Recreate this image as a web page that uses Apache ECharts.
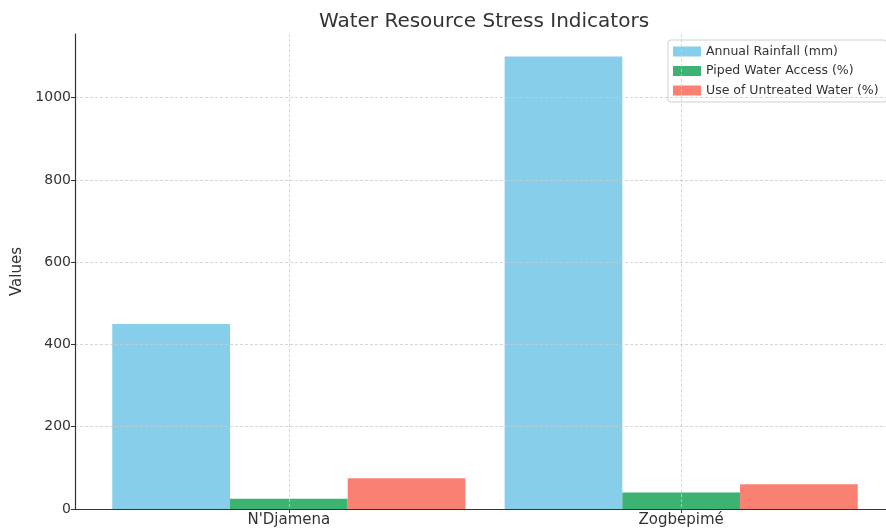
<!DOCTYPE html>
<html>
<head>
<meta charset="utf-8">
<script src="https://cdn.jsdelivr.net/npm/echarts@6/dist/echarts.min.js"></script>
<style>html,body{margin:0;padding:0;background:#fff}#c{width:886px;height:529px}</style>
</head>
<body>
<div id="c"></div>
<script>
const categories = ["N'Djamena", "Zogbepimé"];
const seriesNames = ["Annual Rainfall (mm)", "Piped Water Access (%)", "Use of Untreated Water (%)"];
const annualRainfall = [450, 1100];
const pipedWaterAccess = [25, 40];
const untreatedWater = [75, 60];
const yTicks = [0, 200, 400, 600, 800, 1000];
const colors = ['#87CEEB', '#3CB371', '#FA8072'];

const seriesValues = [annualRainfall, pipedWaterAccess, untreatedWater];
const catIdx = categories.map((_, i) => i);
const font = 'DejaVu Sans';
const grid = '#cccccc';

const chart = echarts.init(document.getElementById('c'), null, {renderer: 'canvas'});
chart.setOption({
  animation: false,
  textStyle: {fontFamily: font},
  title: {
    text: 'Water Resource Stress Indicators',
    left: 479, top: 7, textAlign: 'center',
    textStyle: {fontFamily: font, fontSize: 20, fontWeight: 'normal', color: '#333'}
  },
  legend: {
    orient: 'vertical', left: 668, top: 40,
    data: seriesNames,
    icon: 'rect', itemWidth: 28, itemHeight: 10, itemGap: 6.5,
    padding: [5, 8, 5, 5],
    borderColor: '#d0d0d0', borderWidth: 1, borderRadius: 3,
    textStyle: {fontFamily: font, fontSize: 12.5, color: '#333'}
  },
  grid: {left: 75, top: 34, right: 0, bottom: 20, containLabel: false},
  xAxis: {
    type: 'value', min: -0.545, max: 1.522, z: 5,
    axisLine: {show: true, onZero: false, lineStyle: {color: '#333', width: 1.2}},
    axisTick: {show: true, length: 4, customValues: catIdx, lineStyle: {color: '#333'}},
    axisLabel: {customValues: catIdx, formatter: v => categories[Math.round(v)] || '', fontSize: 15, color: '#333', margin: 4, fontFamily: font},
    splitLine: {show: true, lineStyle: {color: grid, type: [3, 2], width: 0.8}}
  },
  yAxis: {
    type: 'value', min: 0, max: 1155, z: 5,
    name: 'Values', nameLocation: 'middle', nameGap: 47,
    nameTextStyle: {fontFamily: font, fontSize: 15, color: '#333'},
    axisLine: {show: true, onZero: false, lineStyle: {color: '#333', width: 1.2}},
    axisTick: {show: true, length: 4, customValues: yTicks, lineStyle: {color: '#333'}},
    axisLabel: {customValues: yTicks, formatter: v => String(v), fontSize: 14, color: '#333', margin: 4, fontFamily: font},
    splitLine: {show: true, lineStyle: {color: grid, type: [3, 2], width: 0.8}}
  },
  series: seriesNames.map((name, s) => ({
    name: name, type: 'bar', z: 1,
    barGap: '0%', barCategoryGap: '10%',
    itemStyle: {color: colors[s]},
    data: catIdx.map(i => [i, seriesValues[s][i]])
  }))
});
</script>
</body>
</html>
